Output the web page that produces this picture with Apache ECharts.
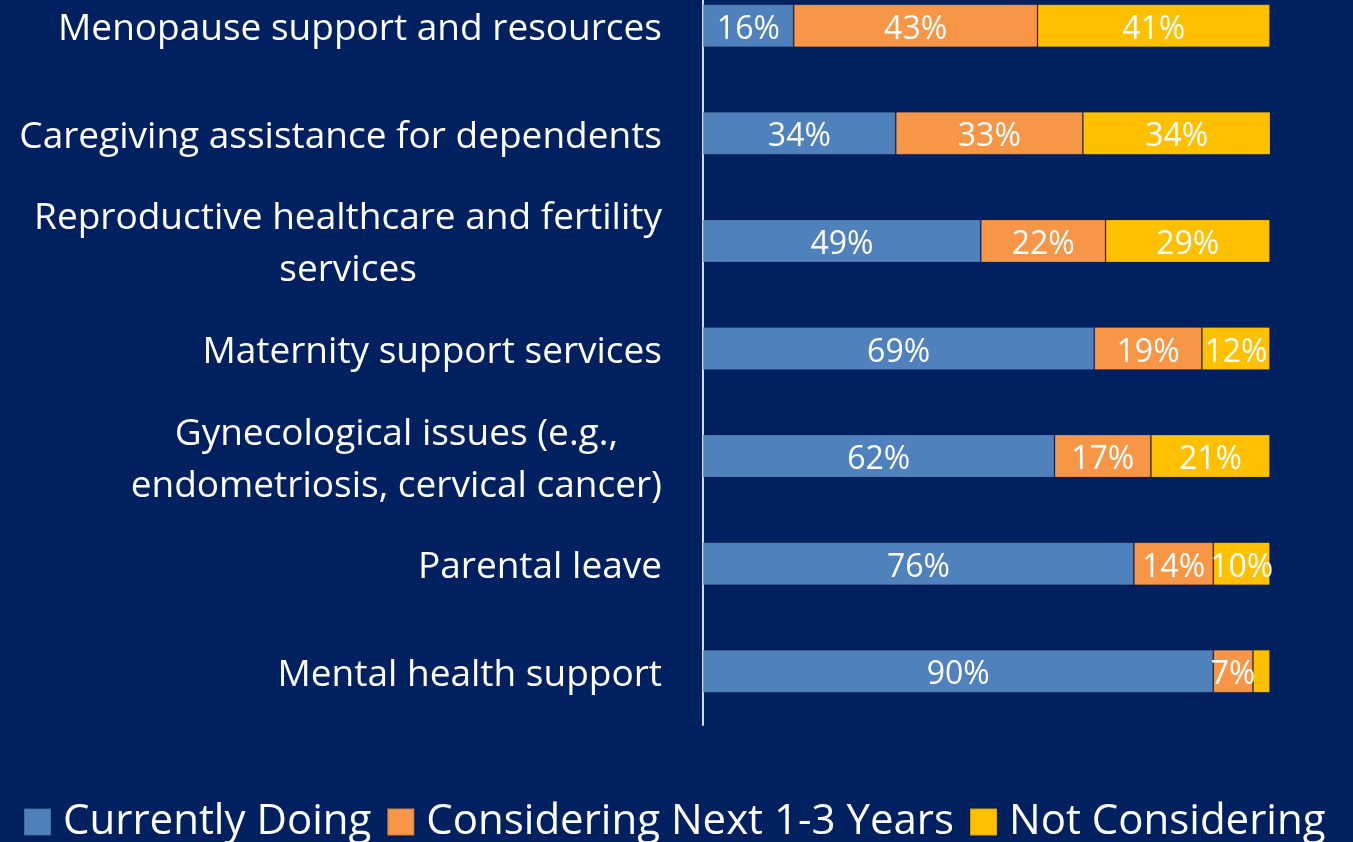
<!DOCTYPE html>
<html>
<head>
<meta charset="utf-8">
<title>Women's health benefits</title>
<script src="https://cdn.jsdelivr.net/npm/echarts@6/dist/echarts.min.js"></script>
<style>
  html, body { margin: 0; padding: 0; background: #002060; }
  #chart { width: 1353px; height: 842px; }
</style>
</head>
<body>
<div id="chart"></div>
<script>
// Benefit categories, top to bottom
const categories = [
  'Menopause support and resources',
  'Caregiving assistance for dependents',
  'Reproductive healthcare and fertility\nservices',
  'Maternity support services',
  'Gynecological issues (e.g.,\nendometriosis, cervical cancer)',
  'Parental leave',
  'Mental health support'
];

// Share of employers (%) per status
const currentlyDoing   = [16, 34, 49, 69, 62, 76, 90];
const consideringNext  = [43, 33, 22, 19, 17, 14, 7];
const notConsidering   = [41, 34, 29, 12, 21, 10, 3];

const seriesNames = ['Currently Doing', 'Considering Next 1-3 Years', 'Not Considering'];
const seriesColors = ['#4f81bd', '#f79646', '#ffc000'];

const FONT = 'Open Sans';

function makeSeries(name, values, color) {
  return {
    name: name,
    type: 'bar',
    stack: 'total',
    barWidth: 43,
    clip: true,
    itemStyle: { color: color, borderColor: 'rgba(0,0,0,0.15)', borderWidth: 1 },
    label: {
      show: true,
      position: 'inside',
      offset: [0, 4],
      color: '#ffffff',
      fontFamily: FONT,
      fontSize: 32,
      formatter: p => (p.value >= 5 ? p.value + '%' : '')
    },
    data: values
  };
}

const chart = echarts.init(document.getElementById('chart'));
chart.setOption({
  backgroundColor: '#002060',
  animation: false,
  grid: { left: 703, right: 83, top: -28, height: 753, outerBoundsMode: 'none' },
  xAxis: {
    type: 'value',
    min: 0,
    max: 100,
    show: false
  },
  yAxis: {
    type: 'category',
    inverse: true,
    data: categories,
    axisLine: { show: true, lineStyle: { color: '#d9d9d9', width: 2 } },
    axisTick: { show: false },
    splitLine: { show: false },
    axisLabel: {
      margin: 41,
      align: 'right',
      padding: [8, 0, 0, 0],
      formatter: v => v.split('\n').map(l => '{c|' + l + '}').join('\n'),
      rich: {
        c: {
          align: 'center',
          color: '#ffffff',
          fontFamily: FONT,
          fontSize: 37,
          lineHeight: 52
        }
      }
    }
  },
  legend: {
    data: seriesNames,
    left: 18,
    top: 796,
    icon: 'rect',
    itemWidth: 27,
    itemHeight: 27,
    itemGap: 15,
    textStyle: {
      color: '#ffffff',
      fontFamily: FONT,
      fontSize: 42,
      padding: [0, 0, 0, 7]
    }
  },
  series: [
    makeSeries(seriesNames[0], currentlyDoing, seriesColors[0]),
    makeSeries(seriesNames[1], consideringNext, seriesColors[1]),
    makeSeries(seriesNames[2], notConsidering, seriesColors[2])
  ]
});
</script>
</body>
</html>
